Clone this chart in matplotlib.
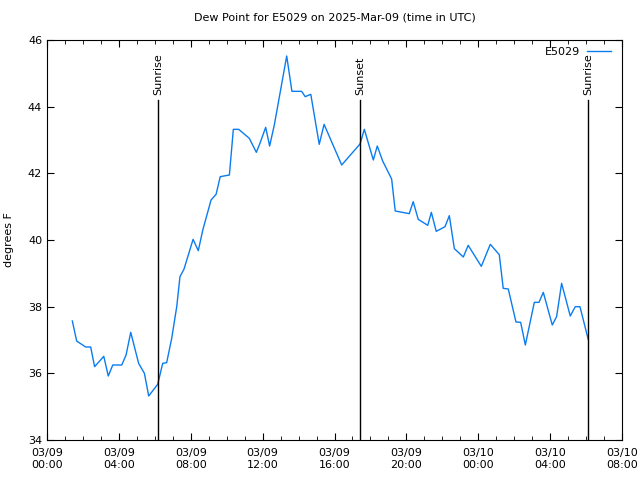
import matplotlib
matplotlib.use('Agg')
import matplotlib.pyplot as plt
from matplotlib.ticker import MultipleLocator

# hours since 03/09 00:00 UTC
hours = [1.41, 1.65, 2.15, 2.43, 2.65, 3.16, 3.41, 3.66, 4.16, 4.40, 4.66, 5.10, 5.42,
         5.66, 6.16, 6.44, 6.66, 6.94, 7.22, 7.40, 7.62, 8.13, 8.42, 8.67, 9.13, 9.41,
         9.64, 10.15, 10.37, 10.67, 11.26, 11.65, 11.85, 12.17, 12.39, 12.65, 13.34,
         13.63, 14.17, 14.37, 14.68, 15.15, 15.42, 16.40, 17.42, 17.66, 18.16, 18.38,
         18.68, 19.18, 19.38, 20.16, 20.38, 20.66, 21.19, 21.39, 21.66, 22.15, 22.39,
         22.67, 23.17, 23.44, 24.17, 24.67, 25.17, 25.39, 25.67, 26.10, 26.36, 26.62,
         27.12, 27.38, 27.62, 28.12, 28.36, 28.64, 29.12, 29.40, 29.66, 30.12]
dewpoint = [37.57, 36.97, 36.79, 36.79, 36.20, 36.51, 35.92, 36.25, 36.25, 36.55, 37.23,
            36.30, 36.00, 35.32, 35.67, 36.30, 36.32, 37.05, 38.00, 38.90, 39.12, 40.02,
            39.68, 40.30, 41.20, 41.37, 41.90, 41.95, 43.32, 43.32, 43.05, 42.63, 42.90,
            43.38, 42.82, 43.45, 45.52, 44.46, 44.46, 44.30, 44.37, 42.87, 43.47, 42.25,
            42.88, 43.32, 42.40, 42.82, 42.37, 41.83, 40.87, 40.79, 41.15, 40.62, 40.44,
            40.83, 40.26, 40.40, 40.73, 39.74, 39.49, 39.84, 39.21, 39.87, 39.56, 38.55,
            38.53, 37.54, 37.53, 36.85, 38.13, 38.13, 38.43, 37.45, 37.70, 38.70, 37.72,
            38.00, 38.00, 37.02]

events = ['Sunrise', 'Sunset', 'Sunrise']
event_hours = [6.18, 17.42, 30.11]

xtick_hours = [0, 4, 8, 12, 16, 20, 24, 28, 32]
xtick_labels = ['03/09\n00:00', '03/09\n04:00', '03/09\n08:00', '03/09\n12:00',
                '03/09\n16:00', '03/09\n20:00', '03/10\n00:00', '03/10\n04:00',
                '03/10\n08:00']

plt.rcParams['font.family'] = 'DejaVu Sans'
plt.rcParams['font.size'] = 8

fig = plt.figure(figsize=(6.4, 4.8), dpi=100)
ax = fig.add_axes([47 / 640, 40 / 480, 575 / 640, 400 / 480])

ax.plot(hours, dewpoint, color='#0a7cf0', linewidth=1, label='E5029')

for name, h in zip(events, event_hours):
    ax.axvline(h, ymin=0, ymax=0.85, color='black', linewidth=1)
    ax.text(h, 44.35, name, rotation=90, ha='center', va='bottom', fontsize=8)

ax.set_xlim(0, 32)
ax.set_ylim(34, 46)
ax.set_xticks(xtick_hours)
ax.set_xticklabels(xtick_labels)
ax.xaxis.set_minor_locator(MultipleLocator(1))
ax.yaxis.set_major_locator(MultipleLocator(2))
ax.tick_params(which='both', direction='in', top=True, right=True)
ax.tick_params(which='major', length=5)
ax.tick_params(which='minor', length=3)
ax.tick_params(axis='x', pad=6)

ax.set_title('Dew Point for E5029 on 2025-Mar-09 (time in UTC)', fontsize=8, pad=14)
ax.set_ylabel('degrees F', labelpad=10)

leg = ax.legend(loc='upper right', frameon=False, markerfirst=False,
                handlelength=2.2, borderaxespad=0.2, handletextpad=0.6,
                bbox_to_anchor=(0.993, 1.0))

plt.savefig('out.png')
